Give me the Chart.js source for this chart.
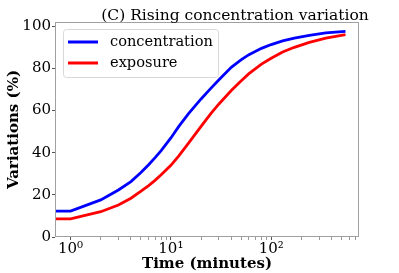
<!DOCTYPE html>
<html>
<head>
<meta charset="utf-8">
<script src="https://cdn.jsdelivr.net/npm/chart.js@4"></script>
<style>
  html, body { margin: 0; padding: 0; background: #fff; }
  #wrap { width: 399px; height: 273px; }
</style>
</head>
<body>
<div id="wrap"><canvas id="myChart"></canvas></div>
<script>
// time points (minutes) and the two curves
const times = [0.1, 1, 2, 3, 4, 5, 6, 7, 8, 10, 12, 15, 20, 25, 30, 40, 50, 60, 80, 100, 130, 170, 240, 350, 550];
const concentration = [12.3, 12.3, 17.6, 22.3, 26.3, 30.5, 34.3, 37.8, 41, 47, 52.5, 58.5, 65.5, 70.5, 74.5, 80.5, 84, 86.5, 89.5, 91.3, 93, 94.3, 95.6, 96.8, 97.6];
const exposure = [8.6, 8.6, 12, 15.2, 18.4, 21.6, 24.4, 27, 29.5, 34, 38.5, 44.5, 52.5, 58.5, 63, 69.5, 74, 77.5, 82, 84.8, 87.8, 90, 92.3, 94.3, 96];
const yTicks = [0, 20, 40, 60, 80, 100];
const xMajor = [1, 10, 100];
const xLabels = { 1: '10⁰', 10: '10¹', 100: '10²' };

const serif = '"DejaVu Serif", serif';

function toPoints(vals) {
    return times.map((t, i) => ({ x: t, y: vals[i] }));
}

// frame, title and legend box in matplotlib style
const decor = {
    id: 'decor',
    afterDraw(chart) {
        const c = chart.ctx;
        const a = chart.chartArea;
        c.save();
        c.strokeStyle = '#a0a0a0';
        c.lineWidth = 1;
        c.strokeRect(a.left + 0.5, a.top + 0.5, a.right - a.left - 1, a.bottom - a.top - 1);

        c.fillStyle = '#000';
        c.font = '15.5px ' + serif;
        c.textAlign = 'center';
        c.textBaseline = 'alphabetic';
        c.fillText('(C) Rising concentration variation', 235, 20);

        // legend
        const bx = 63, by = 29, bw = 155, bh = 48;
        c.font = '14.6px ' + serif;
        c.fillStyle = 'rgba(255,255,255,0.8)';
        c.strokeStyle = '#d8d8d8';
        c.beginPath();
        c.roundRect(bx + 0.5, by + 0.5, bw, bh, 3);
        c.fill();
        c.stroke();
        c.textAlign = 'left';
        c.textBaseline = 'middle';
        chart.data.datasets.forEach((ds, i) => {
            const ly = 42 + i * 21;
            c.strokeStyle = ds.borderColor;
            c.lineWidth = 3;
            c.beginPath();
            c.moveTo(68, ly);
            c.lineTo(98, ly);
            c.stroke();
            c.fillStyle = '#000';
            c.fillText(ds.label, 110, ly);
        });
        c.restore();
    }
};

new Chart(document.getElementById('myChart'), {
    type: 'line',
    data: {
        datasets: [{
            label: 'concentration',
            data: toPoints(concentration),
            borderColor: '#0000ff',
            borderWidth: 2.8,
            pointRadius: 0,
            tension: 0
        }, {
            label: 'exposure',
            data: toPoints(exposure),
            borderColor: '#ff0000',
            borderWidth: 2.8,
            pointRadius: 0,
            tension: 0
        }]
    },
    options: {
        responsive: true,
        maintainAspectRatio: false,
        animation: false,
        layout: { padding: { top: 22, right: 40, left: 0, bottom: 0 } },
        plugins: {
            legend: { display: false },
            tooltip: { enabled: false }
        },
        scales: {
            x: {
                type: 'logarithmic',
                min: 0.72,
                max: 750,
                border: { display: false },
                grid: {
                    drawOnChartArea: false,
                    tickLength: 3,
                    tickColor: ctx => xMajor.includes(ctx.tick && ctx.tick.value) ? '#555' : '#999',
                    tickWidth: 1
                },
                afterBuildTicks(scale) {
                    const ts = [];
                    [1, 10, 100].forEach(d => {
                        for (let k = 1; k <= 9; k++) {
                            const v = d * k;
                            if (v <= 750) ts.push({ value: v });
                        }
                    });
                    scale.ticks = ts;
                },
                ticks: {
                    autoSkip: false,
                    maxRotation: 0,
                    padding: 0,
                    color: '#000',
                    font: { family: serif, size: 15 },
                    callback: v => xLabels[v] || ''
                },
                title: {
                    display: true,
                    text: 'Time (minutes)',
                    color: '#000',
                    font: { family: serif, size: 15, weight: 'bold' },
                    padding: { top: 0, bottom: 0 }
                },
                afterFit(scale) { scale.height = 36; }
            },
            y: {
                min: 0,
                max: 102,
                border: { display: false },
                grid: {
                    drawOnChartArea: false,
                    tickLength: 3,
                    tickColor: '#555'
                },
                afterBuildTicks(scale) {
                    scale.ticks = yTicks.map(v => ({ value: v }));
                },
                ticks: {
                    padding: 1,
                    color: '#000',
                    font: { family: serif, size: 15 }
                },
                title: {
                    display: true,
                    text: 'Variations (%)',
                    color: '#000',
                    font: { family: serif, size: 15, weight: 'bold' },
                    padding: { top: 5, bottom: 0 }
                },
                afterFit(scale) { scale.width = 55; }
            }
        }
    },
    plugins: [decor]
});
</script>
</body>
</html>
